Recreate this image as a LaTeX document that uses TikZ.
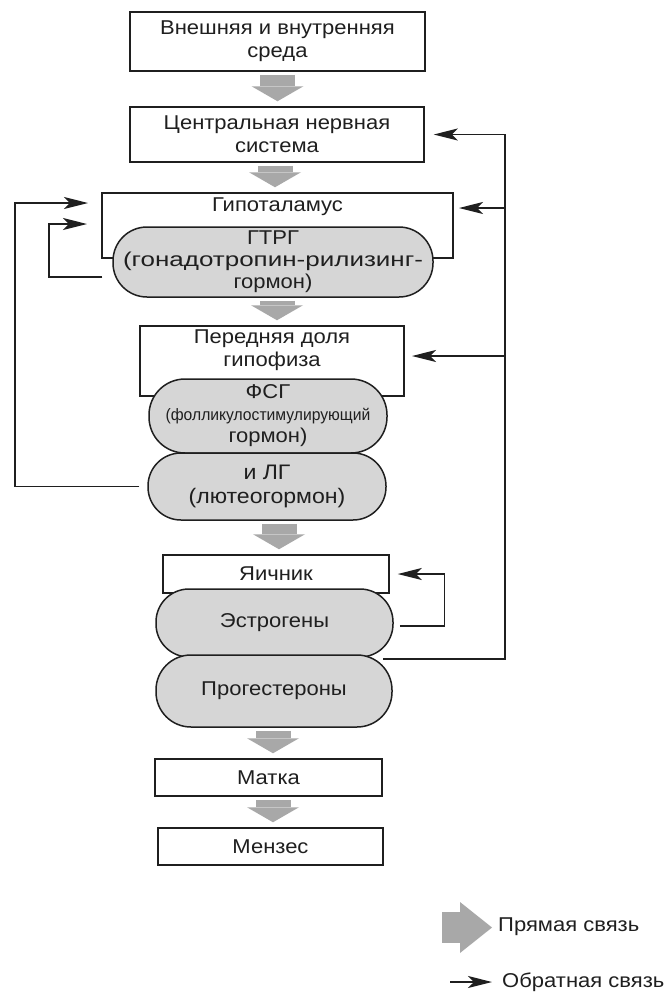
\documentclass[tikz,border=0pt]{standalone}
\usepackage{fontspec}
\setmainfont{Liberation Sans}[FakeStretch=1.1]
\newfontfamily\wideF{Liberation Sans}[FakeStretch=1.3]
\newfontfamily\narrowF{Liberation Sans}[FakeStretch=0.95]
\usetikzlibrary{arrows.meta,calc}
\definecolor{ink}{gray}{0.12}
\definecolor{pillfill}{gray}{0.84}
\definecolor{arrowfill}{gray}{0.66}
\tikzset{
  box/.style={draw=ink, line width=1.5pt, fill=white, rectangle, inner sep=0pt, align=center, text=ink, font=\fontsize{20}{23}\selectfont},
  pill/.style={draw=ink, line width=1.5pt, fill=pillfill, rectangle, inner sep=0pt, align=center, text=ink, font=\fontsize{20}{22}\selectfont},
  lbl/.style={text=ink, align=center, inner sep=0pt, font=\fontsize{20}{23}\selectfont},
  fwd/.style={draw=arrowfill, line width=35pt, -{Triangle[width=52pt,length=15pt,line width=0pt]}, shorten <=3pt, shorten >=5pt},
  fb/.style={draw=ink, line width=1.4pt, -{Stealth[length=24pt,width=12pt,inset=6pt]}},
}
\begin{document}
\begin{tikzpicture}[x=1pt,y=-1pt]
\useasboundingbox[fill=white] (0,0) rectangle (667,997);
% axis coordinates for the forward arrows
\coordinate (ax1) at (277.5,0);
\coordinate (ax2) at (275,0);
\coordinate (ax3) at (277,0);
\coordinate (ax4) at (279,0);
\coordinate (ax5) at (273,0);
\coordinate (ax6) at (273,0);
% blocks
\node[box, minimum width=295pt, minimum height=59pt] (env) at (277.5,41.5) {Внешняя и внутренняя\\среда};
\node[box, minimum width=294pt, minimum height=55pt] (cns) at (277,134.5) {Центральная нервная\\система};
\node[box, minimum width=351pt, minimum height=65pt] (hyp) at (277.5,225.5) {};
\node[lbl] (hypt) at (277.5,207) {Гипоталамус};
\node[pill, minimum width=320pt, minimum height=70pt, rounded corners=34pt] (gtrg) at (273,262) {ГТРГ\\{\wideF(гонадотропин-рилизинг-}\\гормон)};
\node[box, minimum width=264pt, minimum height=70pt] (pit) at (272,361) {};
\node[lbl] (pitt) at (272,350) {Передняя доля\\гипофиза};
\node[pill, minimum width=238pt, minimum height=74pt, rounded corners=36pt] (fsg) at (268,416) {ФСГ\\{\narrowF\fontsize{16.5}{22}\selectfont(фолликулостимулирующий}\\гормон)};
\node[pill, minimum width=238pt, minimum height=67pt, rounded corners=33pt, font=\fontsize{21}{24}\selectfont] (lg) at (267,486.5) {и ЛГ\\(лютеогормон)};
\node[box, minimum width=226pt, minimum height=38pt] (ova) at (276,574) {Яичник};
\node[pill, minimum width=237pt, minimum height=68pt, rounded corners=33pt] (estr) at (274.5,623) {Эстрогены};
\node[pill, minimum width=236pt, minimum height=72pt, rounded corners=35pt] (prog) at (274,691) {Прогестероны};
\node[box, minimum width=227pt, minimum height=37pt] (uter) at (268.5,777.5) {Матка};
\node[box, minimum width=225pt, minimum height=37pt] (menz) at (270.5,846.5) {Мензес};
% forward arrows
\draw[fwd] (ax1 |- env.south) -- (ax1 |- cns.north);
\draw[fwd] (ax2 |- cns.south) -- (ax2 |- hyp.north);
\draw[fwd] (ax3 |- gtrg.south) -- (ax3 |- pit.north);
\draw[fwd] (ax4 |- lg.south) -- (ax4 |- ova.north);
\draw[fwd] (ax5 |- prog.south) -- (ax5 |- uter.north);
\draw[fwd] (ax6 |- uter.south) -- (ax6 |- menz.north);
% feedback, right side
\coordinate (rx) at (505,0);
\coordinate (rs) at (383,659);
\coordinate (hypR) at (453,208);
\coordinate (pitR) at (404,356);
\draw[fb, shorten >=9pt] (rs) -- (rx |- rs) -- (rx |- cns.east) -- (cns.east);
\draw[fb, shorten >=6pt] (rx |- hypR) -- (hypR);
\draw[fb, shorten >=8pt] (rx |- pitR) -- (pitR);
% ovary self loop
\draw[fb, shorten >=8pt] ([xshift=6pt,yshift=-3pt]estr.east) -| ([xshift=55pt]ova.east) -- (ova.east);
% feedback, left side
\coordinate (lx1) at (15,0);
\coordinate (lx2) at (49,0);
\coordinate (hypL1) at (102,203);
\coordinate (hypL2) at (102,224);
\coordinate (gs) at ([xshift=-10pt,yshift=-15pt]gtrg.west);
\draw[fb, shorten >=14pt] ([xshift=-8pt]lg.west) -- (lx1 |- lg.west) -- (lx1 |- hypL1) -- (hypL1);
\draw[fb, shorten >=15pt] (gs) -- (lx2 |- gs) -- (lx2 |- hypL2) -- (hypL2);
% legend
\coordinate (lgA) at (442,927.5);
\coordinate (lgB) at (492,927.5);
\draw[draw=arrowfill, line width=31pt, -{Triangle[width=51pt,length=32pt,line width=0pt]}] (lgA) -- (lgB);
\node[lbl, anchor=west] (lgt1) at (498,927) {Прямая связь};
\coordinate (lfA) at (450,982);
\coordinate (lfB) at (492,982);
\draw[fb] (lfA) -- (lfB);
\node[lbl, anchor=west] (lgt2) at (502,982) {Обратная связь};
\end{tikzpicture}
\end{document}
